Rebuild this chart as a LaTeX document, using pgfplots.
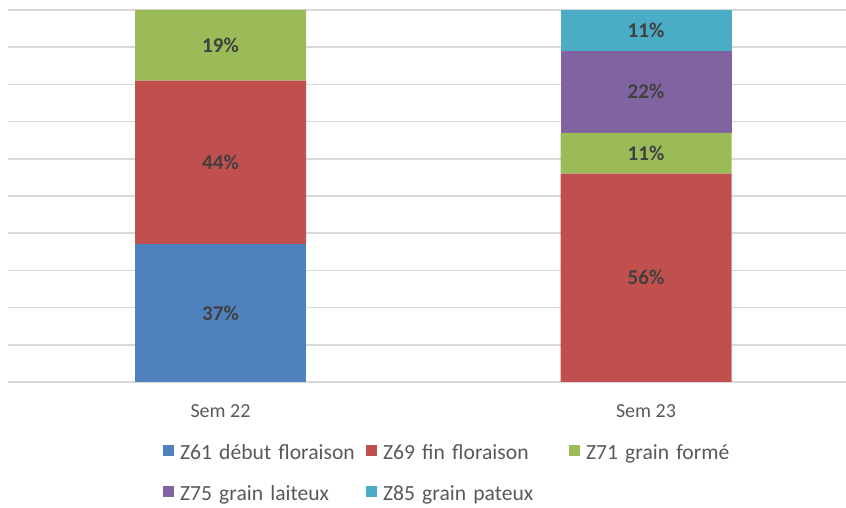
\documentclass[border=0pt]{standalone}
\usepackage{pgfplots}
\pgfplotsset{compat=1.18}
\usepackage{fontspec}
\setmainfont{Carlito}
\definecolor{cBlue}{HTML}{4F81BD}
\definecolor{cRed}{HTML}{C0504D}
\definecolor{cGreen}{HTML}{9BBB59}
\definecolor{cPurple}{HTML}{8064A2}
\definecolor{cAqua}{HTML}{4BACC6}
\definecolor{cGrid}{HTML}{D9D9D9}
\definecolor{cText}{HTML}{595959}
\definecolor{cLabel}{HTML}{404040}
\begin{document}
\begin{tikzpicture}
\useasboundingbox (-8pt,-126pt) rectangle (838pt,382pt);
\pgfplotsset{
  base/.style={
    scale only axis, width=838pt, height=372pt,
    xmin=-0.4994, xmax=1.470, ymin=0, ymax=100,
    at={(0pt,0pt)}, anchor=south west,
  }
}
\begin{axis}[base,
  ybar stacked, bar width=171pt,
  axis line style={draw=none},
  ytick={0,10,...,100}, yticklabels={},
  ymajorgrids, grid style={draw=cGrid, line width=1.5pt},
  major tick length=0pt,
  xtick={0,1}, xticklabels={Sem 22, Sem 23},
  xticklabel style={anchor=base, yshift=-36pt, text=cText, font=\fontsize{20}{24}\selectfont},
  legend columns=3,
  legend image code/.code={\fill[#1] (0pt,-1pt) rectangle (11pt,10pt);},
  legend style={draw=none, fill=none, inner sep=0pt, outer sep=0pt,
    at={(axis description cs:0.185,-0.1685)}, anchor=north west,
    font=\fontsize{21.6}{25}\selectfont, text=cText,
    nodes={inner sep=0pt, text height=15pt, text depth=5pt},
    row sep=21pt,
    /tikz/every odd column/.append style={column sep=6pt},
    /tikz/every even column/.append style={text width=186pt, column sep=0pt},
    cells={anchor=west}},
]
\addplot[fill=cBlue, draw=none] coordinates {(0,37) (1,0)};
\addplot[fill=cRed, draw=none] coordinates {(0,44) (1,56)};
\addplot[fill=cGreen, draw=none] coordinates {(0,19) (1,11)};
\addplot[fill=cPurple, draw=none] coordinates {(0,0) (1,22)};
\addplot[fill=cAqua, draw=none] coordinates {(0,0) (1,11)};
\legend{Z61 début floraison, Z69 fin floraison, Z71 grain formé, Z75 grain laiteux, Z85 grain pateux}
\end{axis}
\begin{axis}[base, hide axis]
\addplot[only marks, mark=none, nodes near coords, point meta=explicit symbolic,
  nodes near coords style={anchor=center, text=cLabel, font=\fontsize{21}{25}\selectfont\bfseries}]
  table[meta=label] {
x y label
0 18.5 37\%
0 59 44\%
0 90.5 19\%
1 28 56\%
1 61.5 11\%
1 78 22\%
1 94.5 11\%
};
\end{axis}
\end{tikzpicture}
\end{document}
